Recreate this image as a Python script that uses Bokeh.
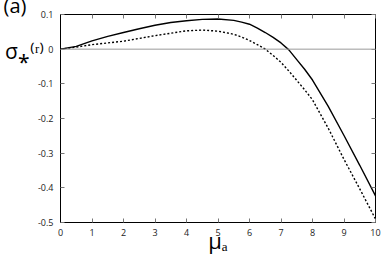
from bokeh.plotting import figure
from bokeh.models import Span, FixedTicker, LinearAxis, Range1d
from bokeh.embed import file_html
from bokeh.resources import INLINE

mu = [0, 0.5, 1, 1.5, 2, 2.5, 3, 3.5, 4, 4.5, 5, 5.5, 5.75, 6, 6.25, 6.5, 6.75,
      7, 7.25, 7.5, 7.75, 8, 8.5, 9, 9.5, 10]
sigma_solid = [0, 0.008, 0.024, 0.037, 0.048, 0.059, 0.069, 0.077, 0.082, 0.086, 0.087,
               0.083, 0.078, 0.072, 0.061, 0.048, 0.034, 0.018, -0.002, -0.03, -0.058,
               -0.089, -0.165, -0.249, -0.335, -0.423]
sigma_dashed = [0, 0.006, 0.013, 0.018, 0.023, 0.031, 0.039, 0.046, 0.053, 0.055, 0.052,
                0.043, 0.035, 0.025, 0.013, 0.0, -0.018, -0.038, -0.063, -0.09, -0.117,
                -0.146, -0.228, -0.318, -0.403, -0.49]
xticks = [0, 1, 2, 3, 4, 5, 6, 7, 8, 9, 10]
yticks = [0.1, 0, -0.1, -0.2, -0.3, -0.4, -0.5]
ytick_labels = ["0.1", "0", "-0.1", "-0.2", "-0.3", "-0.4", "-0.5"]
panel_label = "(a)"
y_label = "σ⁎⁽ʳ⁾"
x_label = "μₐ"

FONT = "Open Sans"
NBSP = "\u00a0"

p = figure(width=382, height=264, output_backend="svg", toolbar_location=None,
           x_range=Range1d(0, 10), y_range=Range1d(-0.5, 0.1),
           min_border_left=60, min_border_right=7, min_border_top=14, min_border_bottom=42)
p.xgrid.visible = False
p.ygrid.visible = False
p.outline_line_color = "black"
p.outline_line_width = 1
p.background_fill_color = "white"
p.border_fill_color = "white"

for ax in (p.xaxis[0], p.yaxis[0]):
    ax.major_tick_in = 4
    ax.major_tick_out = 0
    ax.minor_tick_line_color = None
    ax.axis_line_color = "black"
    ax.major_tick_line_color = "#777777"
    ax.major_label_text_font = FONT
    ax.major_label_text_font_size = "9px"
    ax.major_label_text_color = "#222222"

xa = p.xaxis[0]
xa.ticker = FixedTicker(ticks=xticks)
xa.major_label_standoff = 6
xa.axis_label = x_label
xa.axis_label_text_font = FONT
xa.axis_label_text_font_size = "22px"
xa.axis_label_text_font_style = "normal"
xa.axis_label_text_color = "black"
xa.axis_label_standoff = -14

# main y axis: its label (sigma) is raised by trailing blank lines
ya = p.yaxis[0]
ya.ticker = FixedTicker(ticks=yticks)
ya.major_label_overrides = {t: l for t, l in zip(yticks, ytick_labels)}
ya.major_label_standoff = 7
ya.axis_label = "\n".join([y_label] + [NBSP] * 4)
ya.axis_label_orientation = "horizontal"
ya.axis_label_standoff = -9
ya.axis_label_text_font = FONT
ya.axis_label_text_font_size = "21px"
ya.axis_label_text_font_style = "normal"
ya.axis_label_text_color = "black"

# outer left axis (no ticks) carrying the panel letter near the top
lab_axis = LinearAxis(ticker=FixedTicker(ticks=[]),
                      axis_line_color=None, major_tick_in=0, major_tick_out=0,
                      minor_tick_line_color=None, major_label_text_color=None,
                      axis_label="\n".join([panel_label] + [NBSP] * 7),
                      axis_label_orientation="horizontal",
                      axis_label_standoff=-24,
                      axis_label_text_font=FONT, axis_label_text_font_size="20px",
                      axis_label_text_font_style="normal", axis_label_text_color="black")
p.add_layout(lab_axis, "left")

top = LinearAxis(ticker=FixedTicker(ticks=xticks), major_label_text_color=None,
                 major_label_text_font_size="9px", major_label_standoff=0,
                 major_tick_in=4, major_tick_out=0, minor_tick_line_color=None,
                 major_tick_line_color="#777777", axis_line_color=None)
right = LinearAxis(ticker=FixedTicker(ticks=yticks), major_label_text_color=None,
                   major_label_text_font_size="9px", major_label_standoff=0,
                   major_tick_in=4, major_tick_out=0, minor_tick_line_color=None,
                   major_tick_line_color="#777777", axis_line_color=None)
p.add_layout(top, "above")
p.add_layout(right, "right")

p.add_layout(Span(location=0, dimension="width", line_color="#999999", line_width=1))

p.line(mu, sigma_solid, line_color="black", line_width=1.4)
p.line(mu, sigma_dashed, line_color="black", line_width=1.4, line_dash="2 2")

open("out.html", "w").write(file_html(p, INLINE))
